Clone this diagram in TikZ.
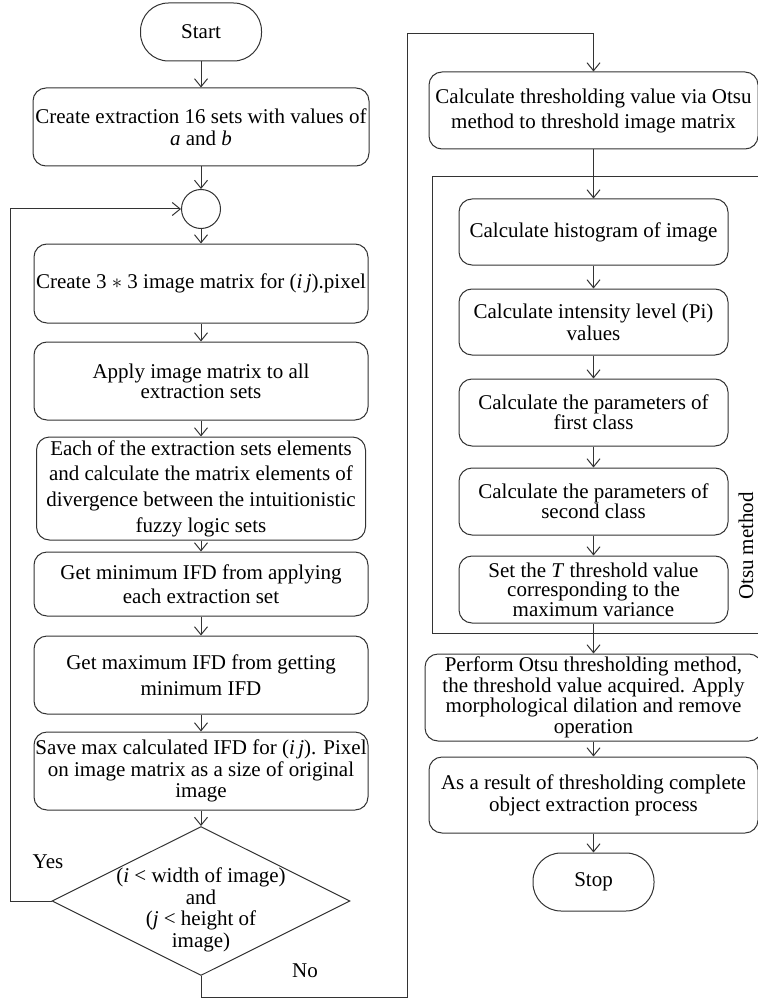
\documentclass[tikz,border=0pt]{standalone}
\usepackage{fontspec}
\setmainfont{Liberation Serif}
\usetikzlibrary{arrows.meta,shapes.geometric}
\newcommand\mybsk[1]{\fontsize{21}{#1}\selectfont}
\begin{document}
\begin{tikzpicture}[x=1pt,y=-1pt,line width=1pt,
  every node/.style={font=\mybsk{22}, text=black},
  lc/.style={draw=black!80},
  proc/.style={lc, draw, rectangle, rounded corners=13pt, align=center, inner sep=0pt},
  term/.style={lc, draw, rectangle, rounded corners=28pt, align=center, inner sep=0pt, minimum width=121pt, minimum height=58pt},
  arr/.style={lc, -{Straight Barb[length=8pt,width=13pt]}},
  ln/.style={lc}
]
\useasboundingbox (0,0) rectangle (757,1000);

% left column
\node[term] (start) at (201,32) {Start};
\node[proc, minimum width=336pt, minimum height=78pt] (b1) at (201,127)
  {Create extraction 16 sets with values of\\ \textit{a} and \textit{b}};
\node[lc, draw, circle, minimum size=39pt, inner sep=0pt] (c) at (201,209) {};
\node[proc, minimum width=334pt, minimum height=79pt] (b2) at (201,283.5)
  {Create 3 $\ast$ 3 image matrix for (\textit{i\,j}).pixel};
\node[proc, minimum width=334pt, minimum height=78pt, font=\mybsk{20}] (b3) at (201,381)
  {Apply image matrix to all\\ extraction sets};
\node[proc, minimum width=329pt, minimum height=103pt, font=\mybsk{25.7}] (b4) at (201,488.5)
  {Each of the extraction sets elements\\ and calculate the matrix elements of\\ divergence between the intuitionistic\\ fuzzy logic sets};
\node[proc, minimum width=334pt, minimum height=64pt, font=\mybsk{24}] (b5) at (201,584)
  {Get minimum IFD from applying\\ each extraction set};
\node[proc, minimum width=334pt, minimum height=78pt, font=\mybsk{26}] (b6) at (201,675)
  {Get maximum IFD from getting\\ minimum IFD};
\node[proc, minimum width=334pt, minimum height=78pt, font=\mybsk{21.7}] (b7) at (201,771)
  {Save max calculated IFD for (\textit{i\,j}). Pixel\\ on image matrix as a size of original\\ image};
\node[lc, draw, diamond, minimum width=298pt, minimum height=149pt, inner sep=0pt] (d) at (201,901) {};
\node[align=center, inner sep=0pt, font=\mybsk{21.7}] (dt) at (201,910)
  {(\textit{i} < width of image)\\ and\\ (\textit{j} < height of\\ image)};
\node (yes) at (48,862) {Yes};
\node (no) at (305,971) {No};

% right column
\node[proc, minimum width=329pt, minimum height=77pt, font=\mybsk{25}] (r1) at (593.5,110.5)
  {Calculate thresholding value via Otsu\\ method to threshold image matrix};
\node[lc, draw, rectangle, inner sep=0pt, minimum width=343pt, minimum height=457pt, anchor=north west] (frame) at (432,176) {};
\node[proc, minimum width=269pt, minimum height=66pt] (r2) at (593.5,232)
  {Calculate histogram of image};
\node[proc, minimum width=269pt, minimum height=66pt] (r3) at (593.5,322)
  {Calculate intensity level (Pi)\\ values};
\node[proc, minimum width=269pt, minimum height=67pt, font=\mybsk{20}] (r4) at (593.5,412.5)
  {Calculate the parameters of\\ first class};
\node[proc, minimum width=269pt, minimum height=67pt, font=\mybsk{20}] (r5) at (593.5,501.5)
  {Calculate the parameters of\\ second class};
\node[proc, minimum width=269pt, minimum height=67pt, font=\mybsk{19.5}] (r6) at (593.5,589.5)
  {Set the \textit{T} threshold value\\ corresponding to the\\ maximum variance};
\node[rotate=90, inner sep=0pt] (otsu) at (746,546) {Otsu method};
\node[proc, minimum width=337pt, minimum height=87pt, font=\mybsk{20.5}] (r7) at (593.5,697.5)
  {Perform Otsu thresholding method,\\ the threshold value acquired. Apply\\ morphological dilation and remove\\ operation};
\node[proc, minimum width=329pt, minimum height=76pt] (r8) at (593.5,795)
  {As a result of thresholding complete\\ object extraction process};
\node[term] (stop) at (593.5,882) {Stop};

% connectors
\draw[arr] (start) -- (b1);
\draw[arr] (b1) -- (c);
\draw[arr] (c) -- (b2);
\draw[arr] (b2) -- (b3);
\draw[arr] (b3) -- (b4);
\draw[arr] (b4) -- (b5);
\draw[arr] (b5) -- (b6);
\draw[arr] (b6) -- (b7);
\draw[arr] (b7) -- (d);
\coordinate (loopx) at (10,0);
\draw[arr] (d.west) -- (d.west -| loopx) -- (c.west -| loopx) -- (c.west);
\coordinate (nob) at (407,997);
\coordinate (not) at (407,34);
\draw[arr] (d.south) |- (nob) -- (not) -| (r1.north);
\draw[arr] (r1) -- (r2);
\draw[arr] (r2) -- (r3);
\draw[arr] (r3) -- (r4);
\draw[arr] (r4) -- (r5);
\draw[arr] (r5) -- (r6);
\draw[arr] (r6) -- (r7);
\draw[arr] (r7) -- (r8);
\draw[arr] (r8) -- (stop);
\end{tikzpicture}
\end{document}
